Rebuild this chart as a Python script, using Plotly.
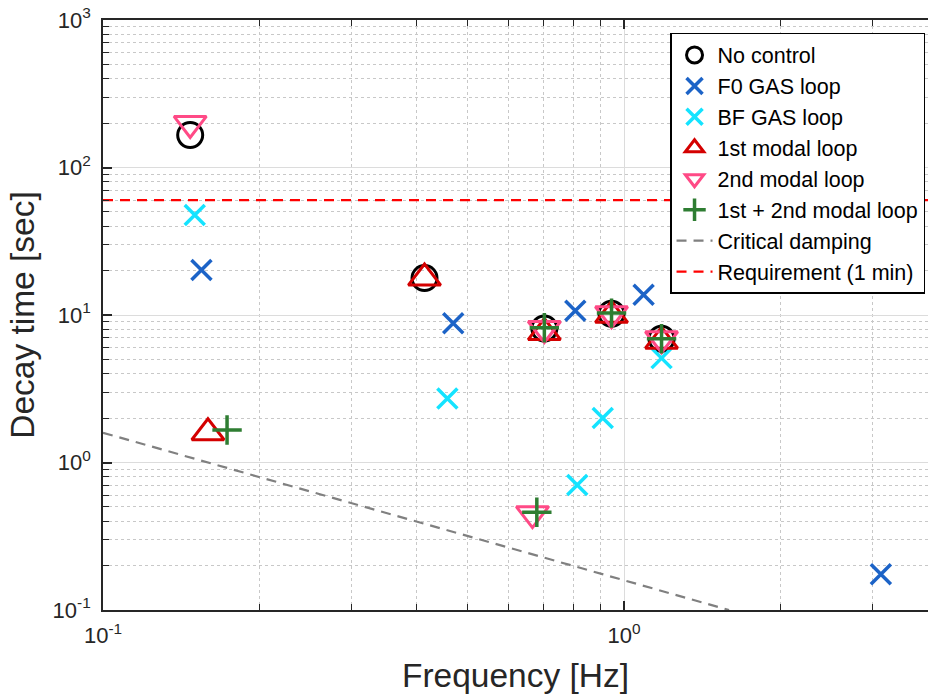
import math
import plotly.graph_objects as go

# ---- data ----
nc_freq = [0.147, 0.414, 0.703, 0.946, 1.18]
nc_tau = [166, 17.8, 8.1, 10.2, 6.9]

f0_freq = [0.1545, 0.47, 0.806, 1.09, 3.11]
f0_tau = [20.2, 8.8, 10.7, 13.7, 0.175]

bf_freq = [0.150, 0.458, 0.813, 0.91, 1.18]
bf_tau = [47.6, 2.72, 0.703, 2.0, 5.1]

m1_freq = [0.159, 0.414, 0.703, 0.946, 1.18]
m1_tau = [1.59, 17.8, 7.6, 9.95, 6.65]

m2_freq = [0.147, 0.667, 0.703, 0.946, 1.18]
m2_tau = [199, 0.45, 8.1, 10.2, 6.9]

m12_freq = [0.173, 0.68, 0.703, 0.946, 1.18]
m12_tau = [1.66, 0.46, 8.2, 10.3, 6.9]

crit_freq = [0.1, 1.59]
crit_tau = [1.59, 0.1]

req_freq = [0.1, 4.0]
req_tau = [60, 60]

x_major = [0.1, 1]
x_major_text = ["10<sup>-1</sup>", "10<sup>0</sup>"]
x_minor = [0.2, 0.3, 0.4, 0.5, 0.6, 0.7, 0.8, 0.9, 2, 3]
y_major = [0.1, 1, 10, 100, 1000]
y_major_text = ["10<sup>-1</sup>", "10<sup>0</sup>", "10<sup>1</sup>", "10<sup>2</sup>", "10<sup>3</sup>"]
y_minor = [m * d for d in [0.1, 1, 10, 100] for m in range(2, 10)]

x_max = 3.83

FONT = "Liberation Sans"
AX = "#262626"

fig = go.Figure()

fig.add_trace(go.Scatter(x=nc_freq, y=nc_tau, mode="markers", name="No control",
                         marker=dict(symbol="circle-open", size=25, color="black", line=dict(width=3))))
fig.add_trace(go.Scatter(x=f0_freq, y=f0_tau, mode="markers", name="F0 GAS loop",
                         marker=dict(symbol="x-thin-open", size=20, color="#1C63C7", line=dict(width=3.5))))
fig.add_trace(go.Scatter(x=bf_freq, y=bf_tau, mode="markers", name="BF GAS loop",
                         marker=dict(symbol="x-thin-open", size=20, color="#14E3FF", line=dict(width=3.5))))
fig.add_trace(go.Scatter(x=m1_freq, y=m1_tau, mode="markers", name="1st modal loop",
                         marker=dict(symbol="triangle-up-open", size=28, color="#D40000", line=dict(width=3))))
fig.add_trace(go.Scatter(x=m2_freq, y=m2_tau, mode="markers", name="2nd modal loop",
                         marker=dict(symbol="triangle-down-open", size=28, color="#FF4A86", line=dict(width=3))))
fig.add_trace(go.Scatter(x=m12_freq, y=m12_tau, mode="markers", name="1st + 2nd modal loop",
                         marker=dict(symbol="cross-thin-open", size=21, color="#2E7D32", line=dict(width=3.5))))
fig.add_trace(go.Scatter(x=crit_freq, y=crit_tau, mode="lines", name="Critical damping",
                         line=dict(color="#808080", width=2.2, dash="10px,7px")))
fig.add_trace(go.Scatter(x=req_freq, y=req_tau, mode="lines", name="Requirement (1 min)",
                         line=dict(color="#FF0000", width=2.2, dash="10px,7px")))

fig.update_layout(
    width=928, height=698, autosize=False,
    margin=dict(l=103, r=0, t=20, b=88, autoexpand=False),
    plot_bgcolor="white", paper_bgcolor="white",
    font=dict(family=FONT, color=AX),
    legend=dict(x=0.9964, xanchor="right", y=0.978, yanchor="top",
                bgcolor="white", bordercolor="black", borderwidth=1.5,
                font=dict(family=FONT, size=21.5, color="black"),
                tracegroupgap=0, itemwidth=36, entrywidth=240, entrywidthmode="pixels"),
    showlegend=True,
)

fig.update_xaxes(
    type="log", range=[-1, math.log10(x_max)], automargin=False,
    title=dict(text="Frequency [Hz]", font=dict(family=FONT, size=33.5, color=AX), standoff=16),
    tickvals=x_major, ticktext=x_major_text, tickfont=dict(family=FONT, size=22, color=AX),
    ticks="inside", ticklen=9, tickwidth=1.5, tickcolor=AX, ticklabelstandoff=5,
    showline=True, linecolor=AX, linewidth=1.8, mirror="allticks",
    showgrid=True, gridcolor="#DCDCDC", gridwidth=1.2,
    zeroline=False,
    minor=dict(tickvals=x_minor, ticks="inside", ticklen=6, tickwidth=1.2, tickcolor=AX,
               showgrid=True, gridcolor="#C8C8C8", griddash="dot", gridwidth=1),
)
fig.update_yaxes(
    type="log", range=[-1, 3], automargin=False,
    title=dict(text="Decay time [sec]", font=dict(family=FONT, size=33.5, color=AX), standoff=8),
    tickvals=y_major, ticktext=y_major_text, tickfont=dict(family=FONT, size=22, color=AX),
    ticks="inside", ticklen=9, tickwidth=1.5, tickcolor=AX, ticklabelstandoff=6,
    showline=True, linecolor=AX, linewidth=1.8, mirror=False,
    showgrid=True, gridcolor="#DCDCDC", gridwidth=1.2,
    zeroline=False,
    minor=dict(tickvals=y_minor, ticks="inside", ticklen=6, tickwidth=1.2, tickcolor=AX,
               showgrid=True, gridcolor="#C8C8C8", griddash="dot", gridwidth=1),
)

fig.write_html("out.html", config={"displayModeBar": False},
               post_script="document.body.style.margin='0';document.body.style.overflow='hidden';")
